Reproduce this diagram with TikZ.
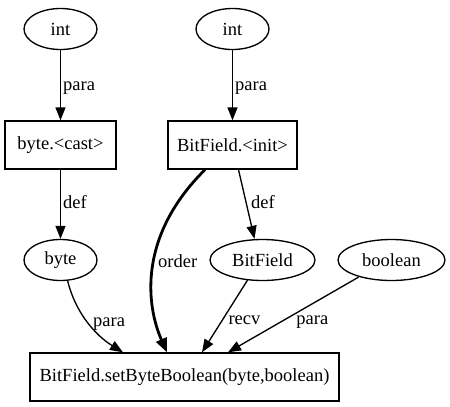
\documentclass[tikz,border=0pt]{standalone}
\usepackage{fontspec}
\setmainfont{Liberation Serif}
\usetikzlibrary{arrows.meta,shapes.geometric}
\begin{document}
\begin{tikzpicture}[x=1pt,y=-1pt,
  font=\fontsize{18.5}{22}\selectfont,
  every node/.style={inner sep=0pt, line width=1.33pt},
  oval/.style={draw, ellipse, minimum height=41pt},
  boxnode/.style={draw, rectangle, minimum height=48pt},
  conn/.style={line width=1.33pt, -{Triangle[length=13pt,width=10pt]}},
  boldconn/.style={line width=2.8pt, -{Triangle[length=14pt,width=11pt]}},
  lbl/.style={right=2pt, inner sep=0pt}]
\useasboundingbox (0,0) rectangle (450,407);
\node[oval, minimum width=73pt] (i1) at (60.5,29) {int};
\node[oval, minimum width=73pt] (i2) at (232.5,29) {int};
\node[boxnode, minimum width=111pt] (cast) at (60.5,145) {byte.<cast>};
\node[boxnode, minimum width=129pt] (init) at (232.5,145) {BitField.<init>};
\node[oval, minimum width=73pt] (byte) at (60.5,260) {byte};
\node[oval, minimum width=105pt] (bf) at (262.5,260) {BitField};
\node[oval, minimum width=107pt] (bool) at (391.5,260) {boolean};
\node[boxnode, minimum width=309pt] (set) at (184.5,377) {BitField.setByteBoolean(byte,boolean)};

\draw[conn] (i1) -- node[lbl, right=0pt, yshift=-3pt] {para} (cast);
\draw[conn] (i2) -- node[lbl, right=0pt, yshift=-3pt] {para} (init);
\draw[conn] (cast) -- node[lbl, right=0pt, yshift=2pt] {def} (byte);
\draw[conn] ([xshift=6pt]init.south) -- node[lbl, right=2pt, yshift=2pt] {def} ([xshift=-8pt]bf.north);
\draw[boldconn] ([xshift=-27.5pt]init.south) .. controls (138,236) and (146,305) .. node[pos=0.45, right=3pt, yshift=-3pt] {order} ([xshift=-17.5pt]set.north);
\draw[conn] ([xshift=7pt,yshift=1pt]byte.south) .. controls (75,312) and (95,335) .. node[pos=0.55, right=2pt, yshift=1pt] {para} ([xshift=-61.5pt]set.north);
\draw[conn] ([xshift=-15pt,yshift=1pt]bf.south) -- node[pos=0.52, right=4pt, yshift=-3pt] {recv} ([xshift=17.5pt]set.north);
\draw[conn] ([xshift=-33pt,yshift=4pt]bool.south) -- node[pos=0.55, right=9pt, yshift=-4pt] {para} ([xshift=43.5pt]set.north);
\end{tikzpicture}
\end{document}
